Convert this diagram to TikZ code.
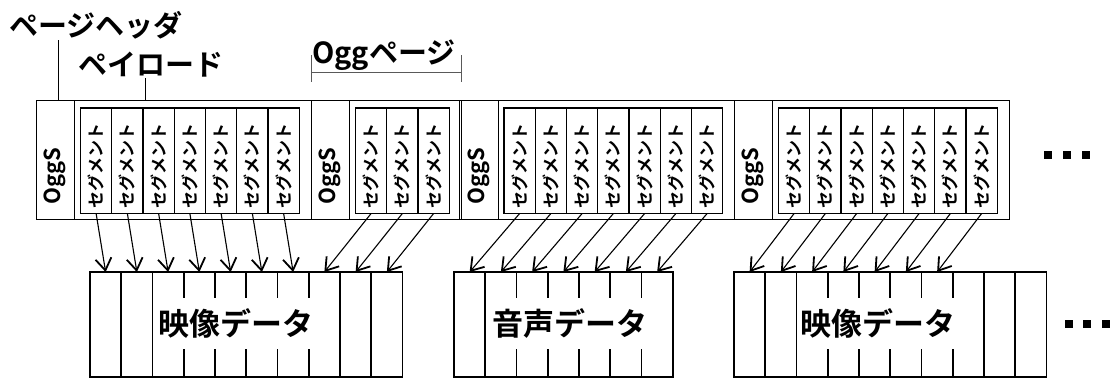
\documentclass[tikz,border=0pt]{standalone}
\usepackage{fontspec}
\setmainfont{Noto Sans CJK JP}[BoldFont={Noto Sans CJK JP Bold}]
\usetikzlibrary{arrows.meta}
\tikzset{%
    oggbox/.style={draw, line width=1pt, anchor=north west, inner sep=0pt,
        outer sep=0pt, minimum width=38.5pt, minimum height=119pt},
    paybox/.style={draw, line width=1pt, anchor=north west, inner sep=0pt,
        outer sep=0pt, minimum height=119pt},
    segbox/.style={draw, line width=1.3pt, anchor=north west, inner sep=0pt,
        outer sep=0pt, minimum width=31.25pt, minimum height=105.5pt},
    oggtext/.style={rotate=90, anchor=west, inner sep=0pt,
        font=\bfseries\fontsize{22}{22}\selectfont},
    segtext/.style={rotate=90, anchor=west, inner sep=0pt,
        font=\bfseries\fontsize{17}{17}\selectfont},
    colbox/.style={draw, line width=1.6pt, anchor=north west, inner sep=0pt,
        outer sep=0pt, minimum width=31.25pt, minimum height=105pt},
    datalabel/.style={fill=white, inner xsep=0pt, inner ysep=0pt,
        minimum height=51pt, font=\bfseries\fontsize{31}{31}\selectfont},
    toplabel/.style={inner sep=0pt, font=\bfseries\fontsize{29}{29}\selectfont},
    segarrow/.style={line width=1.1pt,
        -{Straight Barb[length=12pt, width=16pt, line width=1.8pt]}},
    leader/.style={line width=1pt},
    bracketline/.style={line width=1pt, black!65}
}

\begin{document}
\begin{tikzpicture}[x=1pt, y=-1pt]

    \useasboundingbox (0, 0) rectangle (1115, 379);

    % Ogg pages: header + payload of segments
    \foreach \p/\hx/\n/\kk in {1/36/7/0, 2/311/3/7, 3/459.5/7/10, 4/734/7/17}{%
        \pgfmathsetmacro{\pw}{6 + \n*31.25 + 12}
        \node[oggbox] (h\p) at (\hx, 101) {};
        \node[oggtext] (ht\p) at ([yshift=15pt] h\p.south) {OggS};
        \node[paybox, minimum width=\pw pt] (p\p) at (h\p.north east) {};
        \foreach \i in {1, ..., \n}{%
            \pgfmathtruncatemacro{\k}{\kk + \i}
            \node[segbox] (s\k) at ({\hx + 44.5 + (\i-1)*31.25}, 108) {};
            \node[segtext] (st\k) at ([yshift=4.5pt] s\k.south) {セグメント};
        };
    };

    % decoded streams
    \foreach \b/\bx/\m/\cc in {1/90/10/0, 2/454/7/10, 3/734/10/17}{%
        \foreach \j in {1, ..., \m}{%
            \pgfmathtruncatemacro{\c}{\cc + \j}
            \node[colbox] (c\c) at ({\bx + (\j-1)*31.25}, 272) {};
        };
    };

    \node[datalabel] (video1) at (235.5, 323.5) {映像データ};
    \node[datalabel] (audio) at (569.5, 323.5) {音声データ};
    \node[datalabel] (video2) at (877.5, 323.5) {映像データ};

    \foreach \k in {1, ..., 24}{%
        \draw[segarrow] (s\k.south) -- (c\k.north);
    };

    \node[toplabel] (header) at (96, 25.5) {ページヘッダ};
    \node[toplabel] (payload) at (150.5, 65) {ペイロード};
    \node[toplabel] (oggpage) at (384, 55) {Oggページ};

    \draw[leader] ([xshift=3pt] h1.north) -- ([xshift=3pt] h1.north |- header.south);
    \draw[leader] ([xshift=71pt] p1.north west)
        -- ([xshift=71pt] p1.north west |- payload.south);

    \draw[bracketline] ([yshift=28pt] h2.north west) -- ([yshift=28pt] p2.north east);
    \draw[bracketline] ([yshift=19pt] h2.north west) -- ([yshift=46pt] h2.north west);
    \draw[bracketline] ([yshift=19pt] p2.north east) -- ([yshift=46pt] p2.north east);

    \foreach \dx in {1048, 1067, 1086}{%
        \fill (\dx-4, 151) rectangle ++(8, 8);
    };
    \foreach \dx in {1069, 1087, 1106}{%
        \fill (\dx-4, 320) rectangle ++(8, 8);
    };

\end{tikzpicture}
\end{document}
